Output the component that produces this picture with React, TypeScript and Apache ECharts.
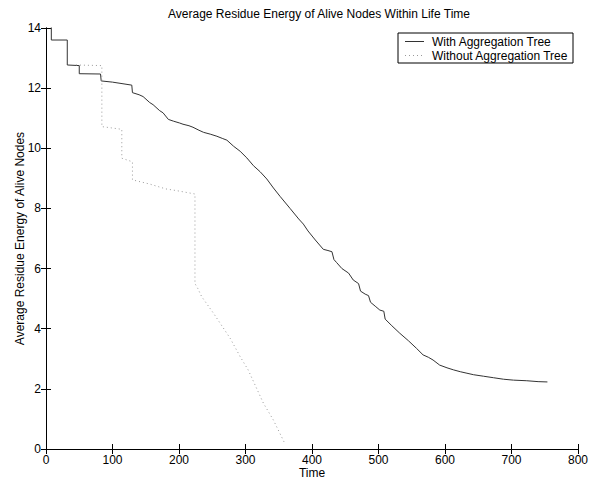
import React, { useEffect, useRef } from "react";
import * as echarts from "echarts";

const titleText = "Average Residue Energy of Alive Nodes Within Life Time";
const xTicks = [0, 100, 200, 300, 400, 500, 600, 700, 800];
const yTicks = [0, 2, 4, 6, 8, 10, 12, 14];
const seriesNames = ["With Aggregation Tree", "Without Aggregation Tree"];

const withTree: [number, number][] = [
  [8, 14.3], [8, 13.6], [32, 13.6], [32, 12.77], [50, 12.75], [50, 12.48], [82, 12.47], [83, 12.24],
  [100, 12.2], [129, 12.1], [130, 11.85], [140, 11.78], [146, 11.72], [156, 11.52], [161, 11.45],
  [171, 11.25], [176, 11.18], [184, 10.96], [192, 10.9], [201, 10.84], [206, 10.8], [215, 10.75],
  [221, 10.7], [230, 10.6], [237, 10.53], [247, 10.47], [257, 10.4], [265, 10.33], [272, 10.27],
  [282, 10.07], [292, 9.9], [302, 9.68], [312, 9.42], [322, 9.22], [332, 8.98], [342, 8.68],
  [352, 8.4], [367, 8.0], [380, 7.65], [387, 7.48], [394, 7.25], [405, 6.95], [417, 6.64],
  [424, 6.6], [430, 6.56], [433, 6.3], [437, 6.2], [445, 6.0], [455, 5.85], [462, 5.62],
  [470, 5.5], [473, 5.25], [480, 5.15], [485, 5.1], [488, 4.88], [495, 4.75], [502, 4.62],
  [508, 4.58], [510, 4.32], [520, 4.1], [532, 3.85], [545, 3.6], [557, 3.35], [567, 3.13],
  [575, 3.05], [582, 2.96], [592, 2.79], [603, 2.7], [613, 2.63], [623, 2.57], [633, 2.52],
  [643, 2.47], [658, 2.42], [673, 2.37], [688, 2.32], [703, 2.29], [723, 2.27], [740, 2.24],
  [754, 2.23],
];

const withoutTree: [number, number][] = [
  [45, 12.77], [84, 12.75], [84, 10.72], [98, 10.68], [114, 10.63], [114, 9.67], [130, 9.55],
  [130, 8.95], [156, 8.81], [180, 8.65], [197, 8.59], [224, 8.48], [224, 5.5], [228, 5.35],
  [234, 5.07], [252, 4.51], [277, 3.68], [292, 3.07], [304, 2.63], [327, 1.52], [342, 0.96],
  [359, 0.19],
];

const FONT = "'Liberation Sans', Arial, Helvetica, sans-serif";
const SOLID_COLOR = "#333";
const DOT_COLOR = "#999";

export default function App() {
  const ref = useRef<HTMLDivElement>(null);
  useEffect(() => {
    if (!ref.current) return;
    const chart = echarts.init(ref.current, undefined, { renderer: "svg" });
    const baseX = {
      type: "value" as const,
      min: xTicks[0],
      max: xTicks[xTicks.length - 1],
      interval: 100,
      axisLine: { show: true, lineStyle: { color: "#000", width: 1 } },
      axisTick: { show: true, inside: true, length: 5, lineStyle: { color: "#000" } },
      splitLine: { show: false },
    };
    const baseY = {
      type: "value" as const,
      min: yTicks[0],
      max: yTicks[yTicks.length - 1],
      interval: 2,
      axisLine: { show: true, lineStyle: { color: "#000", width: 1 } },
      axisTick: { show: true, inside: true, length: 5, lineStyle: { color: "#000" } },
      splitLine: { show: false },
    };
    const lx = 398, ly = 33, lw = 175, lh = 30;
    chart.setOption({
      animation: false,
      backgroundColor: "#fff",
      title: {
        text: titleText,
        left: 314,
        textAlign: "center",
        top: 3,
        textStyle: { fontFamily: FONT, fontSize: 12, fontWeight: "normal", color: "#000" },
      },
      graphic: [
        {
          type: "rect",
          shape: { x: lx, y: ly, width: lw, height: lh },
          style: { fill: "#fff", stroke: "#000", lineWidth: 1 },
          z: 100,
        },
        {
          type: "line",
          shape: { x1: lx + 7, y1: ly + 8.5, x2: lx + 26, y2: ly + 8.5 },
          style: { stroke: SOLID_COLOR, lineWidth: 1 },
          z: 101,
        },
        {
          type: "line",
          shape: { x1: lx + 7, y1: ly + 22.5, x2: lx + 26, y2: ly + 22.5 },
          style: { stroke: DOT_COLOR, lineWidth: 1, lineDash: [1, 3] },
          z: 101,
        },
        {
          type: "text",
          x: lx + 34,
          y: ly + 8.5,
          style: { text: seriesNames[0], fontFamily: FONT, fontSize: 12, fill: "#000", verticalAlign: "middle" },
          z: 101,
        },
        {
          type: "text",
          x: lx + 34,
          y: ly + 22.5,
          style: { text: seriesNames[1], fontFamily: FONT, fontSize: 12, fill: "#000", verticalAlign: "middle" },
          z: 101,
        },
      ],
      grid: { left: 46, right: 17, top: 28, bottom: 30, containLabel: false, outerBoundsMode: "none" },
      xAxis: [
        {
          ...baseX,
          position: "bottom",
          name: "Time",
          nameLocation: "middle",
          nameGap: 18,
          nameMoveOverlap: false,
          nameTextStyle: { fontFamily: FONT, fontSize: 12, color: "#000" },
          axisLabel: { fontFamily: FONT, fontSize: 12, color: "#000", margin: 5 },
        },
        { ...baseX, position: "top", axisLabel: { show: false } },
      ],
      yAxis: [
        {
          ...baseY,
          position: "left",
          name: "Average Residue Energy of Alive Nodes",
          nameLocation: "middle",
          nameGap: 20,
          nameMoveOverlap: false,
          nameTextStyle: { fontFamily: FONT, fontSize: 12, color: "#000" },
          axisLabel: { fontFamily: FONT, fontSize: 12, color: "#000", margin: 5 },
        },
        { ...baseY, position: "right", axisLabel: { show: false } },
      ],
      series: [
        {
          name: seriesNames[0],
          type: "line",
          xAxisIndex: 0,
          yAxisIndex: 0,
          data: withTree,
          showSymbol: false,
          symbol: "none",
          clip: true,
          lineStyle: { color: SOLID_COLOR, width: 1 },
          itemStyle: { color: SOLID_COLOR },
        },
        {
          name: seriesNames[1],
          type: "line",
          xAxisIndex: 0,
          yAxisIndex: 0,
          data: withoutTree,
          showSymbol: false,
          symbol: "none",
          clip: true,
          lineStyle: { color: DOT_COLOR, width: 1, type: [1, 3] },
          itemStyle: { color: DOT_COLOR },
        },
      ],
    });
    return () => chart.dispose();
  }, []);
  return (
    <div
      ref={ref}
      style={{ position: "absolute", left: 0, top: 0, width: 595, height: 479 }}
    />
  );
}
